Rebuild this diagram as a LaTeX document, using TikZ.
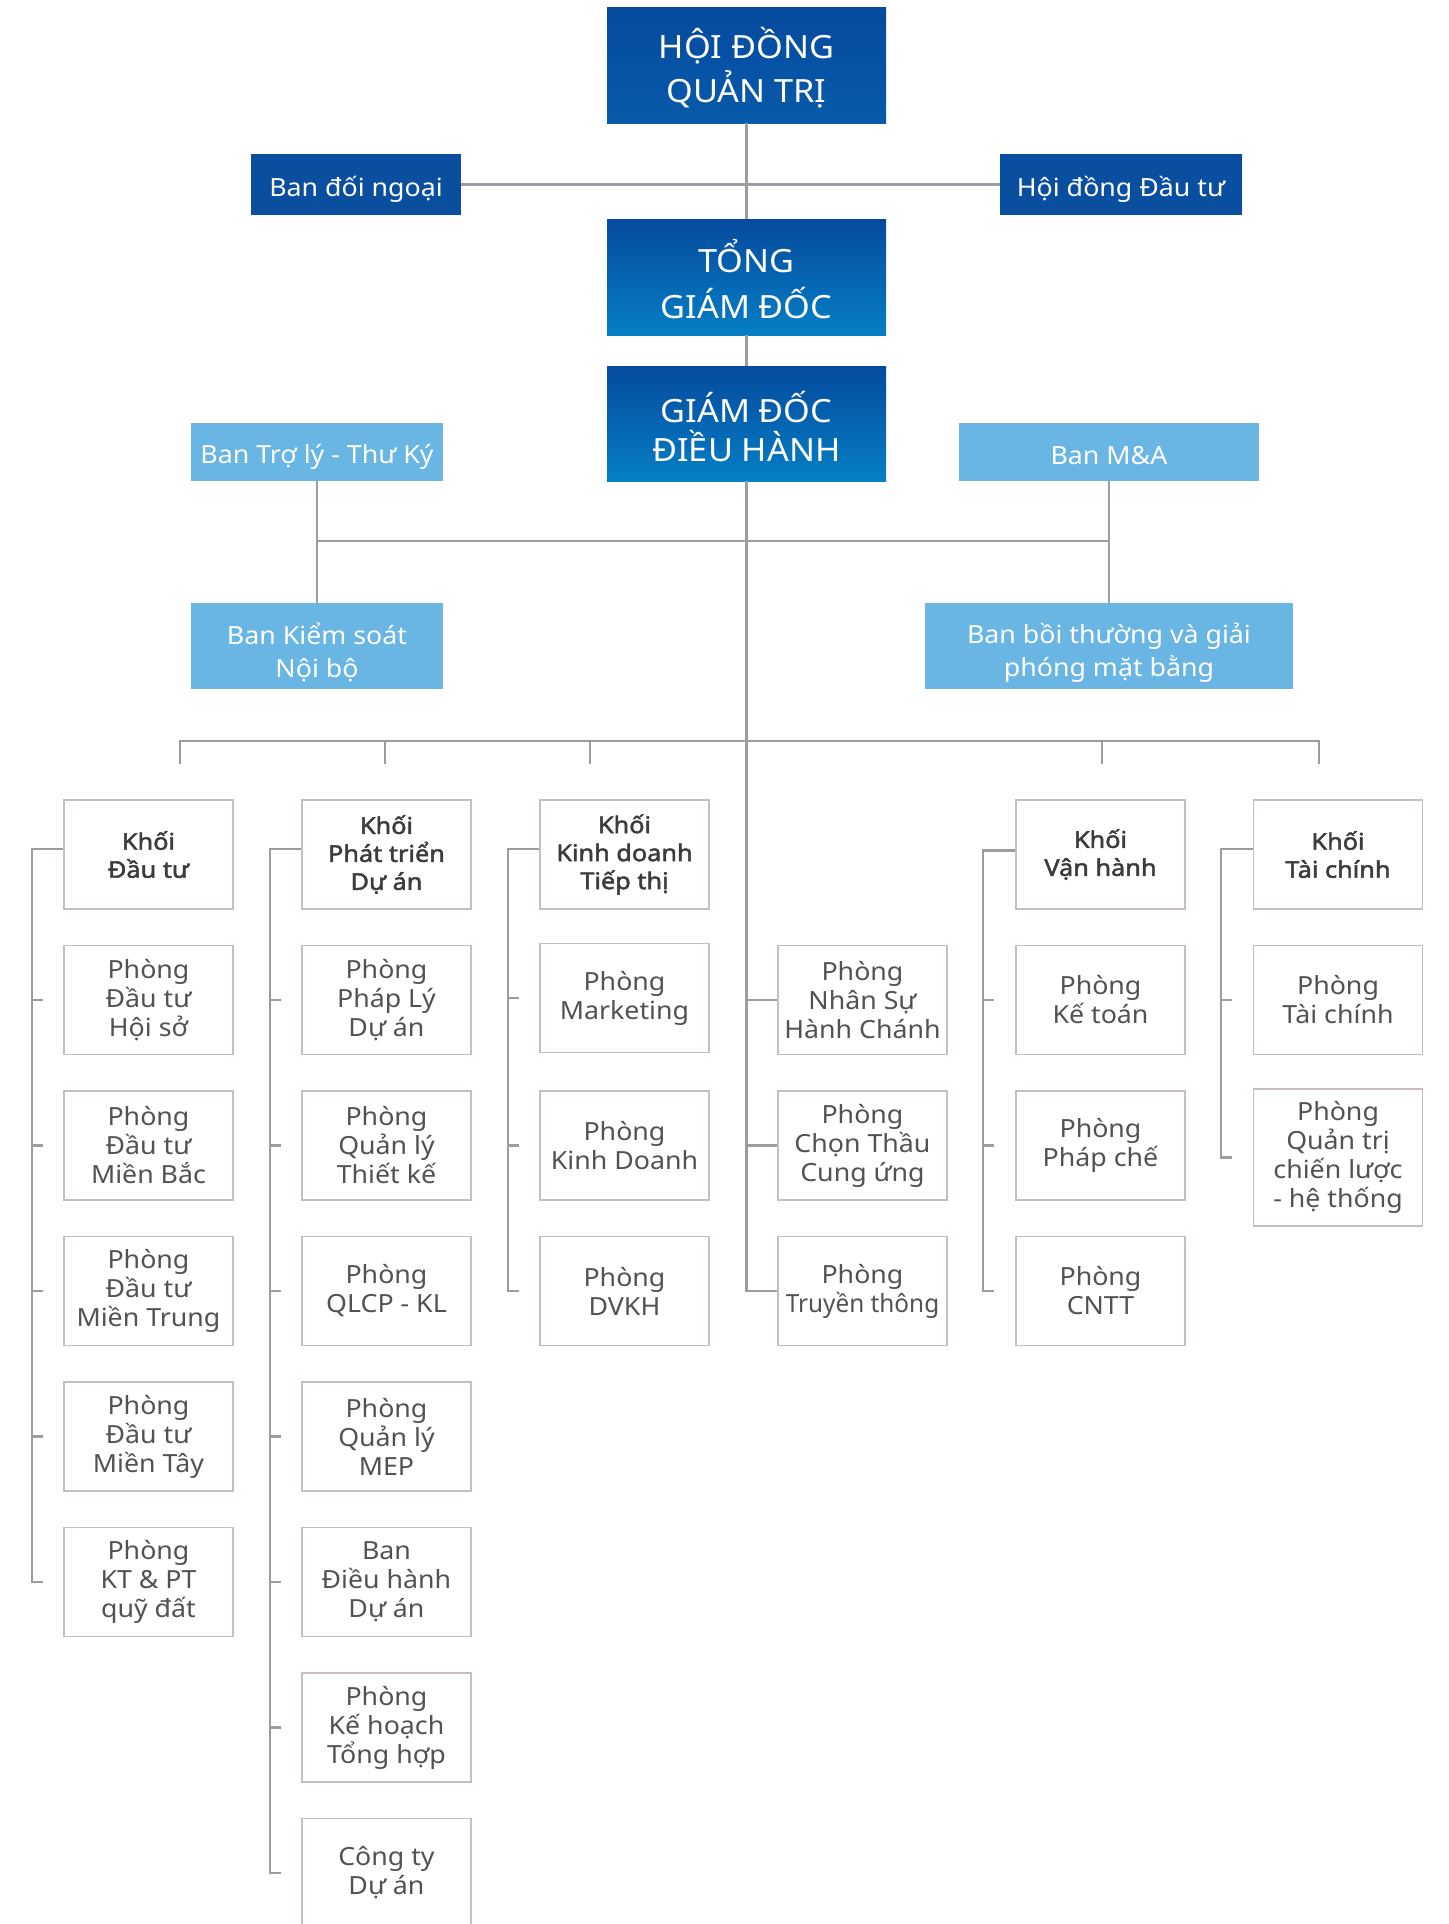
\documentclass[tikz,border=0pt]{standalone}
\usepackage{fontspec}
\usepackage{graphicx}
\setmainfont{Noto Sans}[FakeStretch=1.07]
\newfontfamily\khoifont{Noto Sans}[FakeStretch=1.1,FakeBold=2]
\usetikzlibrary{calc}
\definecolor{dblue}{RGB}{10,78,160}
\definecolor{gtop}{RGB}{5,74,158}
\definecolor{gbot}{RGB}{5,127,197}
\definecolor{hbot}{RGB}{8,90,170}
\definecolor{lblue}{RGB}{105,181,228}
\definecolor{lgray}{RGB}{155,157,162}
\definecolor{bord}{RGB}{200,190,190}
\definecolor{tgray}{RGB}{82,82,82}
\definecolor{tdark}{RGB}{60,60,60}
\newcommand{\dn}[2]{\raisebox{-#1}[\height][\depth]{\vbox{\lineskiplimit=-\maxdimen\let\\\cr\halign{\hfil##\hfil\cr#2\cr}}}}
\begin{document}
\begin{tikzpicture}[x=0.5pt,y=-0.5pt,
  conn/.style={draw=lgray,line width=1.35pt},
  base/.style={inner sep=0pt,align=center,text=white},
  bigbox/.style={base,minimum width=139.5pt,minimum height=58pt},
  midbox/.style={base,fill=dblue,minimum height=30.5pt,font=\fontsize{12.5}{15}\selectfont},
  lbox/.style={base,fill=lblue,font=\fontsize{12.5}{16.5}\selectfont},
  sbox/.style={draw=bord,line width=0.8pt,fill=white,inner sep=0pt,align=center,
    minimum width=84.5pt,minimum height=54.5pt,text=tgray,font=\fontsize{12.5}{14.5}\selectfont},
  kbox/.style={sbox,text=tdark,font=\khoifont\fontsize{11.5}{14}\selectfont}
]
\fill[white] (0,0) rectangle (1449,1924);
\clip (0,0) rectangle (1449,1924);

% top level
\node[bigbox,top color=gtop,bottom color=hbot,font=\fontsize{16}{22}\selectfont] (hdqt) at (746.5,65) {\dn{1.3pt}{HỘI ĐỒNG\\QUẢN TRỊ}};
\node[bigbox,top color=gtop,bottom color=gbot,font=\fontsize{16}{23}\selectfont] (tgd) at (746.5,277) {\dn{1pt}{TỔNG\\GIÁM ĐỐC}};
\node[bigbox,top color=gtop,bottom color=gbot,minimum height=57.5pt,font=\fontsize{16}{19.5}\selectfont] (gddh) at (746.5,423.5) {\dn{1.3pt}{GIÁM ĐỐC\\ĐIỀU HÀNH}};
\node[midbox,minimum width=105pt] (bdn) at (356,184.5) {\dn{2.4pt}{Ban đối ngoại}};
\node[midbox,minimum width=121pt] (hddt) at (1121,184.5) {\dn{2.4pt}{Hội đồng Đầu tư}};
\node[lbox,minimum width=126pt,minimum height=29pt] (btl) at (317,452) {\dn{2.4pt}{Ban Trợ lý - Thư Ký}};
\node[lbox,minimum width=150pt,minimum height=29pt] (bma) at (1109,452) {\dn{1.6pt}{Ban M\&A}};
\node[lbox,minimum width=126pt,minimum height=43pt] (bks) at (317,646) {\dn{3.1pt}{Ban Kiểm soát\\Nội bộ}};
\node[lbox,minimum width=184pt,minimum height=43pt] (bbt) at (1109,646) {\dn{3.5pt}{Ban bồi thường và giải\\phóng mặt bằng}};

% column 1
\node[kbox] (k1) at (148.5,854.5) {Khối\\Đầu tư};
\node[sbox] (a2) at (148.5,1000) {Phòng\\Đầu tư\\Hội sở};
\node[sbox] (a3) at (148.5,1145.5) {Phòng\\Đầu tư\\Miền Bắc};
\node[sbox] (a4) at (148.5,1291) {Phòng\\Đầu tư\\Miền Trung};
\node[sbox] (a5) at (148.5,1436.5) {Phòng\\Đầu tư\\Miền Tây};
\node[sbox] (a6) at (148.5,1582) {Phòng\\KT \& PT\\quỹ đất};
% column 2
\node[kbox] (k2) at (386.5,854.5) {Khối\\Phát triển\\Dự án};
\node[sbox] (b2) at (386.5,1000) {Phòng\\Pháp Lý\\Dự án};
\node[sbox] (b3) at (386.5,1145.5) {Phòng\\Quản lý\\Thiết kế};
\node[sbox] (b4) at (386.5,1291) {Phòng\\QLCP - KL};
\node[sbox] (b5) at (386.5,1436.5) {Phòng\\Quản lý\\MEP};
\node[sbox] (b6) at (386.5,1582) {Ban\\Điều hành\\Dự án};
\node[sbox] (b7) at (386.5,1727.5) {Phòng\\Kế hoạch\\Tổng hợp};
\node[sbox] (b8) at (386.5,1873) {Công ty\\Dự án};
% column 3
\node[kbox] (k3) at (624.5,854.5) {Khối\\Kinh doanh\\Tiếp thị};
\node[sbox] (c2) at (624.5,998) {Phòng\\Marketing};
\node[sbox] (c3) at (624.5,1145.5) {Phòng\\Kinh Doanh};
\node[sbox] (c4) at (624.5,1291) {Phòng\\DVKH};
% middle column
\node[sbox] (d2) at (862.5,1000) {Phòng\\Nhân Sự\\Hành Chánh};
\node[sbox] (d3) at (862.5,1145.5) {Phòng\\Chọn Thầu\\Cung ứng};
\node[sbox] (d4) at (862.5,1291) {Phòng\\\scalebox{0.91}[1]{Truyền thông}};
% column 5
\node[kbox] (k5) at (1100.5,854.5) {Khối\\Vận hành};
\node[sbox] (e2) at (1100.5,1000) {Phòng\\Kế toán};
\node[sbox] (e3) at (1100.5,1145.5) {Phòng\\Pháp chế};
\node[sbox] (e4) at (1100.5,1291) {Phòng\\CNTT};
% column 6
\node[kbox] (k6) at (1338,854.5) {Khối\\Tài chính};
\node[sbox] (f2) at (1338,1000) {Phòng\\Tài chính};
\node[sbox,minimum height=68.5pt] (f3) at (1338,1157.5) {Phòng\\Quản trị\\chiến lược\\- hệ thống};

% connectors, top
\draw[conn] (hdqt.south) -- (tgd.north);
\draw[conn] (bdn.east) -- (hddt.west);
\draw[conn] (tgd.south) -- (gddh.north);
\draw[conn] (btl.south) -- (bks.north);
\draw[conn] (bma.south) -- (bbt.north);
\coordinate (h1) at (0,541);
\draw[conn] (btl.south |- h1) -- (bma.south |- h1);

% bus
\coordinate (bl) at (180,741);
\coordinate (br) at (1319,741);
\coordinate (t1) at (180,764);
\coordinate (t2) at (385,764);
\coordinate (t3) at (590,764);
\coordinate (t5) at (1102,764);
\coordinate (t6) at (1319,764);
\draw[conn] (t1) -- (bl) -- (br) -- (t6);
\foreach \t in {t2,t3,t5} \draw[conn] (\t |- bl) -- (\t);

% central spine
\draw[conn] (gddh.south) |- (d4.west);
\draw[conn] (d2.west -| gddh.south) -- (d2.west);
\draw[conn] (d3.west -| gddh.south) -- (d3.west);

% column brackets
\coordinate (v1) at (32,0);
\coordinate (v2) at (270,0);
\coordinate (v3) at (508,0);
\coordinate (v5) at (983,0);
\coordinate (v6) at (1221,0);
\draw[conn] ([yshift=2.75pt]k1.west) -| (a6.west -| v1) -- ++(11,0);
\foreach \n in {a2,a3,a4,a5} \draw[conn] (\n.west -| v1) -- ++(11,0);
\draw[conn] ([yshift=2.75pt]k2.west) -| (b8.west -| v2) -- ++(11,0);
\foreach \n in {b2,b3,b4,b5,b6,b7} \draw[conn] (\n.west -| v2) -- ++(11,0);
\draw[conn] ([yshift=2.75pt]k3.west) -| (c4.west -| v3) -- ++(11,0);
\foreach \n in {c2,c3} \draw[conn] (\n.west -| v3) -- ++(11,0);
\draw[conn] ([yshift=2pt]k5.west) -| (e4.west -| v5) -- ++(11,0);
\foreach \n in {e2,e3} \draw[conn] (\n.west -| v5) -- ++(11,0);
\draw[conn] ([yshift=2.75pt]k6.west) -| (f3.west -| v6) -- ++(11,0);
\draw[conn] (f2.west -| v6) -- ++(11,0);
\end{tikzpicture}
\end{document}
